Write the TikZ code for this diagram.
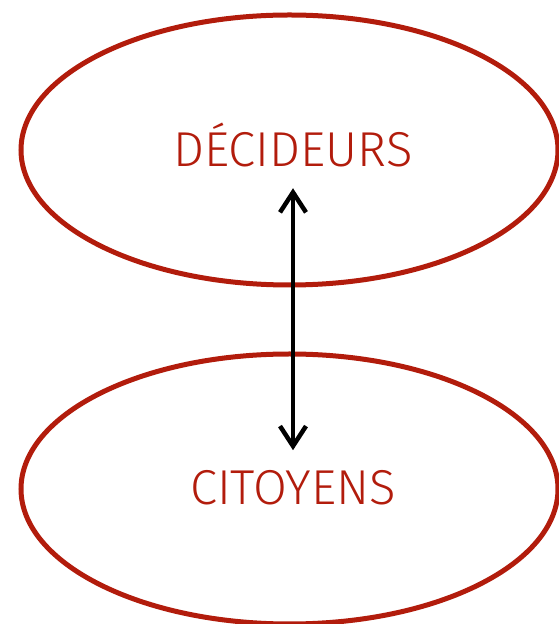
\documentclass[tikz,border=0pt]{standalone}
\usepackage{fontspec}
\usetikzlibrary{shapes.geometric, arrows.meta}
\newfontfamily\thinfont{Fira Sans Light}
\definecolor{decred}{RGB}{178,28,12}

\begin{document}
\begin{tikzpicture}[x=1pt, y=1pt]
        \tikzset{group/.style={draw=decred, line width=5pt, ellipse, inner sep=0pt,
                 minimum width=537pt, minimum height=270pt},
                 grouplabel/.style={text=decred, font=\thinfont\fontsize{49}{49}\selectfont,
                 anchor=base, inner sep=20.5pt}}
        \useasboundingbox (0,0) rectangle (559,624);

        \node [group] (top) at (289.5,474) {};
        \node [group] (bottom) at (289.5,135) {};

        \node [grouplabel] (decideurs) at (293,457) {DÉCIDEURS};
        \node [grouplabel] (citoyens) at (293,119) {CITOYENS};

        \draw [{Straight Barb[length=20pt,width=26pt]}-{Straight Barb[length=20pt,width=26pt]},
               line width=4.5pt, black] (decideurs.south) -- (citoyens.north);
      \end{tikzpicture}
\end{document}
